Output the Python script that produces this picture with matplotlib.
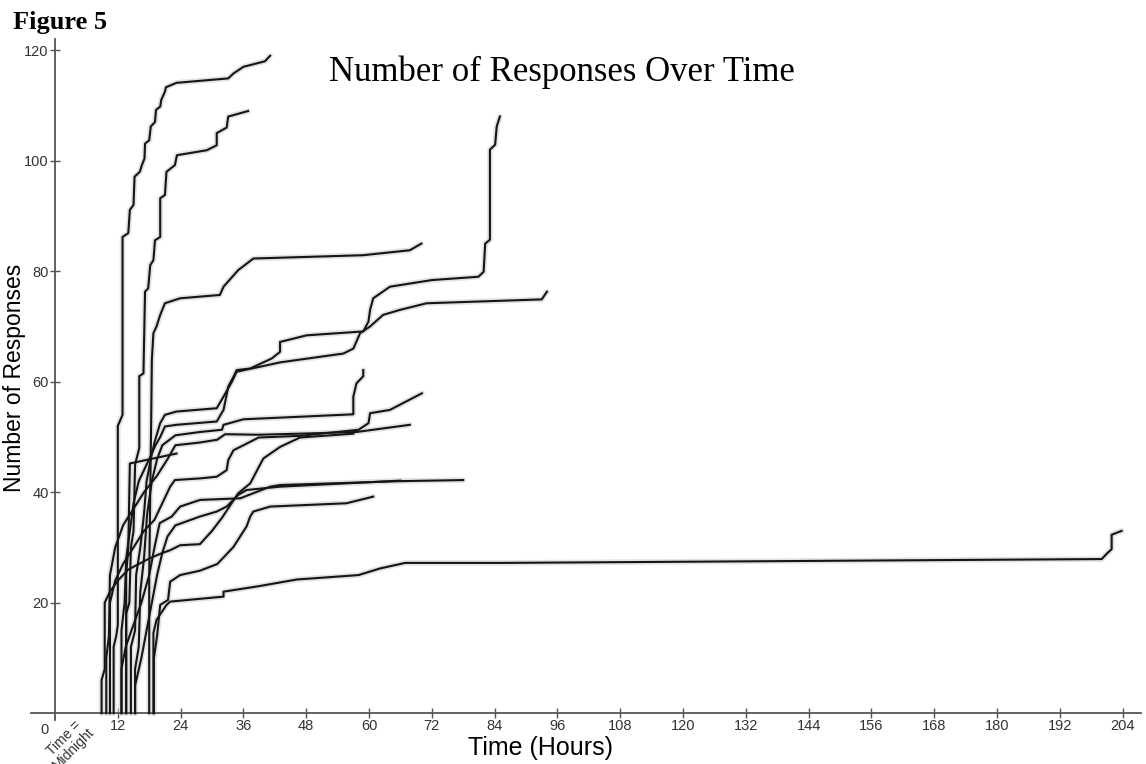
import matplotlib.pyplot as plt
import numpy as np

# cumulative responses per survey: (hours since midnight, number of responses)
curve_a = [(11.2, 0), (11.2, 12), (11.7, 14), (12.0, 16), (12.0, 52), (12.9, 54), (12.9, 86.2), (14, 86.9),
           (14.3, 91.1), (15, 92), (15.2, 97.1), (16.2, 98), (16.6, 99.2), (17.1, 100.4), (17.2, 103.1),
           (18, 103.7), (18.3, 106.2), (19.1, 107), (19.3, 109.2), (20.1, 109.8), (20.3, 111), (21, 112.5),
           (21.2, 113.3), (23.2, 114.1), (33.1, 114.9), (34.1, 115.8), (36, 117), (40.1, 118), (41.1, 119)]
curve_b = [(13.6, 0), (13.6, 18), (14.2, 20), (14.5, 30), (15.0, 33), (15.3, 45), (16.1, 48), (16.1, 61),
           (16.9, 61.5), (17.2, 76.3), (17.8, 76.9), (18.2, 81.1), (18.8, 82), (19.1, 85.6), (20.1, 86.2),
           (20.1, 93.2), (21, 93.8), (21.3, 98), (22.9, 99.2), (23.3, 101), (29, 101.9), (30.9, 102.8),
           (30.9, 105), (32.8, 106), (33.1, 108), (36.9, 109)]
curve_c = [(12.7, 0), (12.7, 15), (13.3, 20), (13.6, 28), (14.3, 33), (15, 38), (16, 42), (17, 44), (18, 46),
           (19.2, 48.5), (20.1, 50), (21, 51.9), (23.2, 52.2), (30.9, 52.8), (32.2, 54.9), (33.1, 59.1),
           (34.1, 60.9), (34.7, 62.1), (37.3, 62.4), (41.4, 64.2), (43, 65.4), (43, 67.2), (48.1, 68.4),
           (58.9, 69.1), (59.9, 70.9), (60.2, 73), (60.8, 75.1), (64, 77.2), (72, 78.4), (80.9, 79),
           (81.9, 79.9), (82.2, 85), (83.1, 85.7), (83.1, 102), (84.1, 102.9), (84.4, 106.2), (85, 108)]
curve_d = [(18.0, 0), (18.0, 25), (18.2, 40), (18.4, 55), (18.5, 63.9), (18.8, 68.8), (19.4, 70), (20.1, 72.1),
           (21, 74.2), (23.9, 75.1), (31.5, 75.7), (32.2, 77.2), (35, 80.2), (37.9, 82.3), (58.9, 82.9),
           (67.8, 83.8), (70, 85)]
curve_e = [(14.5, 0), (14.5, 12), (15.3, 15), (15.5, 25), (16.3, 30), (17, 36), (17.5, 42), (18.3, 46),
           (19, 49), (20.1, 52.5), (21, 54), (23.2, 54.6), (30.9, 55.2), (32.2, 57.3), (33.8, 60), (34.7, 61.8),
           (43, 63.5), (55.1, 65.1), (57, 66), (58.3, 68.8), (60.2, 70), (62.7, 72.1), (65.9, 73), (71, 74.2),
           (93, 74.9), (94, 76.3)]
curve_f = [(15.3, 0), (15.3, 8), (16, 12), (16.3, 22), (17, 28), (17.6, 36), (18.5, 42), (19.5, 46),
           (20.5, 48.5), (23, 50.3), (27.7, 50.9), (31.9, 51.3), (32.2, 52.2), (36, 53.2), (57, 54.1),
           (57, 57.3), (57.6, 59.7), (58.9, 61), (58.9, 62.1)]
curve_g = [(10.5, 0), (10.5, 20), (11.5, 24), (13, 27), (15, 30), (17, 33), (19, 35), (20.5, 38), (22, 41),
           (22.9, 42.2), (27.7, 42.5), (30.9, 42.8), (32.8, 44), (33.1, 45.8), (34.1, 47.6), (36, 48.5),
           (38.9, 49.9), (46.8, 50.2), (58, 51.3), (59.9, 52.5), (60.2, 54.3), (64, 54.9), (70.1, 57.9)]
curve_h = [(9.8, 0), (9.8, 10), (10.3, 14), (10.5, 25), (11.5, 30), (13, 34), (15, 37), (17, 40), (19.5, 43),
           (21.5, 46), (23, 48.5), (27.7, 49), (31, 49.5), (32.5, 50.5), (38.9, 50.4), (46.8, 50.6),
           (57.6, 50.9), (67.8, 52.2)]
curve_i = [(8.9, 0), (8.9, 6), (9.5, 8), (9.5, 20), (10.5, 22), (12, 24), (14, 26), (16, 27), (18, 28),
           (20.5, 29), (22, 29.5), (23.9, 30.4), (27.7, 30.6), (30, 33), (32, 35.5), (35, 39.8), (37.3, 41.6),
           (39.8, 46.1), (43, 48.2), (46.8, 49.9), (57, 50.6)]
curve_j = [(12.7, 0), (12.7, 8), (13.5, 12), (15, 16), (16.5, 20), (18, 25), (19, 30), (20, 34.4), (22.3, 35.6),
           (23.9, 37.4), (27.7, 38.6), (35.4, 38.9), (41.1, 41), (43, 41.3), (66, 42), (78, 42.2)]
curve_k = [(15.3, 0), (15.3, 5), (16.5, 10), (17.5, 15), (18.5, 20), (19.5, 25), (20.5, 29), (21.5, 32),
           (23, 34), (27.7, 35.6), (30.9, 36.5), (32.8, 37.4), (35, 39.5), (36.6, 40.4), (43, 41), (66, 42.1)]
curve_l = [(18.9, 0), (18.9, 10), (19.5, 14), (20.1, 19.6), (21.6, 20.5), (22, 23.8), (23.9, 25), (27.7, 25.8),
           (31, 27), (34.1, 30.1), (36.6, 33.8), (37.3, 35.6), (37.9, 36.5), (41.1, 37.4), (55.7, 38),
           (60.8, 39.2)]
curve_m = [(18.8, 0), (18.8, 14.5), (19.4, 16.9), (21.3, 19.6), (22, 20.2), (32.2, 21.1), (32.2, 22), (39, 23),
           (46.2, 24.2), (58, 25), (62.1, 26.2), (66.9, 27.2), (85, 27.2), (200, 27.9), (201, 28.9),
           (201.9, 29.7), (201.9, 32.3), (203.8, 33)]
curve_n = [(13.6, 0), (13.6, 25), (14.0, 30), (14.2, 40), (14.3, 45.2), (23.2, 47)]

curves = [curve_a, curve_b, curve_c, curve_d, curve_e, curve_f, curve_g,
          curve_h, curve_i, curve_j, curve_k, curve_l, curve_m, curve_n]

x_ticks = list(range(12, 205, 12))
y_ticks = [20, 40, 60, 80, 100, 120]

plt.rcParams['font.family'] = ['Liberation Sans', 'DejaVu Sans']

fig = plt.figure(figsize=(11.46, 7.64), dpi=100)
ax = fig.add_axes([0.027, 0.0571, 0.9686, 0.8916])

# soft grey halo first, then the black lines on top
for c in curves:
    pts = np.array(c)
    ax.plot(pts[:, 0], pts[:, 1], color='#e2e2e2', lw=4.0, solid_joinstyle='round',
            solid_capstyle='round', zorder=2)
for c in curves:
    pts = np.array(c)
    ax.plot(pts[:, 0], pts[:, 1], color='#151515', lw=1.5, solid_joinstyle='round', zorder=3)

ax.set_xlim(-4.6, 207.5)
ax.set_ylim(-1.3, 122)

for side in ['top', 'right']:
    ax.spines[side].set_visible(False)
ax.spines['left'].set_position(('data', 0))
ax.spines['bottom'].set_position(('data', 0))
for side in ['left', 'bottom']:
    ax.spines[side].set_color('#555555')
    ax.spines[side].set_linewidth(1.3)

ax.set_xticks(x_ticks)
ax.set_yticks(y_ticks)
ax.tick_params(axis='both', direction='inout', length=7, width=1, color='#555555',
               labelsize=10.5, labelcolor='#333333', pad=1)
ax.text(-1.3, -1.8, '0', ha='right', va='top', fontsize=10.5, color='#333333')
ax.text(2.6, -5.5, 'Time =\nMidnight', rotation=45, ha='center', va='center',
        fontsize=10, color='#333333', linespacing=1.0)

fig.text(0.472, 0.021, 'Time (Hours)', ha='center', va='center', fontsize=18)
fig.text(0.013, 0.505, 'Number of Responses', ha='center', va='center', rotation=90,
         fontsize=16.5)
fig.text(0.49, 0.906, 'Number of Responses Over Time', ha='center', va='center',
         fontsize=25, family='Liberation Serif')
fig.text(0.011, 0.971, 'Figure 5', ha='left', va='center', fontsize=19,
         family='Liberation Serif', weight='bold')

fig.savefig('out.png', dpi=100)
